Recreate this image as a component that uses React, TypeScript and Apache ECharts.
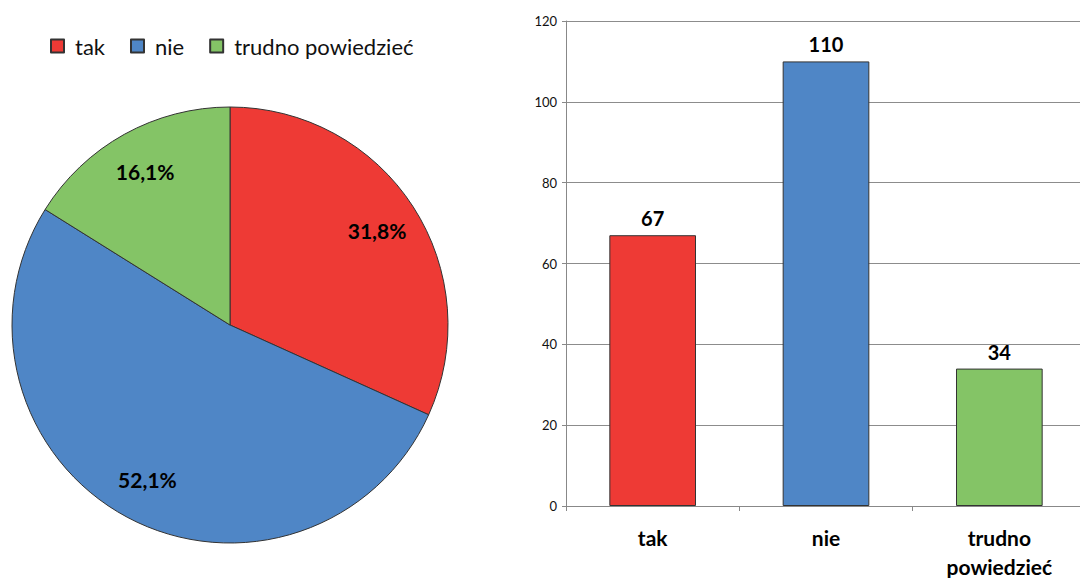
import React, { useEffect, useRef } from "react";
import * as echarts from "echarts";

const categories = ["tak", "nie", "trudno powiedzieć"];
const counts = [67, 110, 34];
const colors = ["#EE3A35", "#4F86C6", "#84C466"];
const yTicks = { min: 0, max: 120, interval: 20 };

const FONT = "Lato, 'Open Sans', sans-serif";

export default function App() {
  const ref = useRef<HTMLDivElement>(null);
  useEffect(() => {
    if (!ref.current) return;
    const chart = echarts.init(ref.current, undefined, { renderer: "svg" });
    const total = counts.reduce((a, b) => a + b, 0);
    const pieData = categories.map((c, i) => ({
      name: c,
      value: counts[i],
      itemStyle: { color: colors[i] },
    }));
    const pctLabel = (p: any) =>
      ((p.value / total) * 100).toFixed(1).replace(".", ",") + "%";
    chart.setOption({
      animation: false,
      textStyle: { fontFamily: FONT },
      legend: {
        left: 50,
        top: 35,
        padding: 0,
        itemWidth: 13,
        itemHeight: 13,
        itemGap: 25,
        icon: "rect",
        data: categories,
        textStyle: {
          fontFamily: FONT,
          fontSize: 22,
          color: "#111",
          padding: [0, 0, 0, 6],
        },
      },
      grid: {
        left: 566,
        top: 21,
        width: 520,
        height: 485,
        outerBoundsMode: "none",
        containLabel: false,
      },
      xAxis: {
        type: "category",
        data: categories,
        axisLine: { lineStyle: { color: "#888", width: 1 } },
        axisTick: { show: true, length: 5, lineStyle: { color: "#888" } },
        axisLabel: {
          fontFamily: FONT,
          fontSize: 21,
          fontWeight: "bold",
          color: "#000",
          margin: 17,
          lineHeight: 29,
          formatter: (v: string) => v.replace(" ", "\n"),
        },
      },
      yAxis: {
        type: "value",
        min: yTicks.min,
        max: yTicks.max,
        interval: yTicks.interval,
        axisLine: { show: true, lineStyle: { color: "#888", width: 1 } },
        axisTick: { show: true, length: 4, lineStyle: { color: "#888" } },
        splitLine: { lineStyle: { color: "#8c8c8c", width: 1 } },
        axisLabel: {
          fontFamily: FONT,
          fontSize: 13,
          color: "#111",
          margin: 9,
        },
      },
      series: [
        {
          type: "pie",
          center: [230, 325],
          radius: [0, 218],
          startAngle: 90,
          clockwise: true,
          data: pieData,
          label: { show: false },
          labelLine: { show: false },
          itemStyle: { borderColor: "#333", borderWidth: 1 },
          emphasis: { disabled: true },
        },
        {
          type: "pie",
          center: [230, 325],
          radius: [126, 218],
          startAngle: 90,
          clockwise: true,
          silent: true,
          data: categories.map((c, i) => ({
            name: c,
            value: counts[i],
            itemStyle: { color: "rgba(0,0,0,0)" },
          })),
          label: {
            show: true,
            position: "inside",
            formatter: pctLabel,
            fontFamily: FONT,
            fontSize: 21,
            fontWeight: "bold",
            color: "#000",
          },
          labelLine: { show: false },
          emphasis: { disabled: true },
        },
        {
          type: "bar",
          data: counts.map((v, i) => ({ value: v, itemStyle: { color: colors[i] } })),
          barWidth: "50%",
          itemStyle: { borderColor: "#333", borderWidth: 1 },
          label: {
            show: true,
            position: "top",
            distance: 7,
            fontFamily: FONT,
            fontSize: 20,
            fontWeight: "bold",
            color: "#000",
          },
          emphasis: { disabled: true },
        },
      ],
    });
    return () => chart.dispose();
  }, []);
  return (
    <div
      ref={ref}
      style={{ position: "fixed", left: 0, top: 0, width: 1080, height: 578, background: "#fff" }}
    />
  );
}
